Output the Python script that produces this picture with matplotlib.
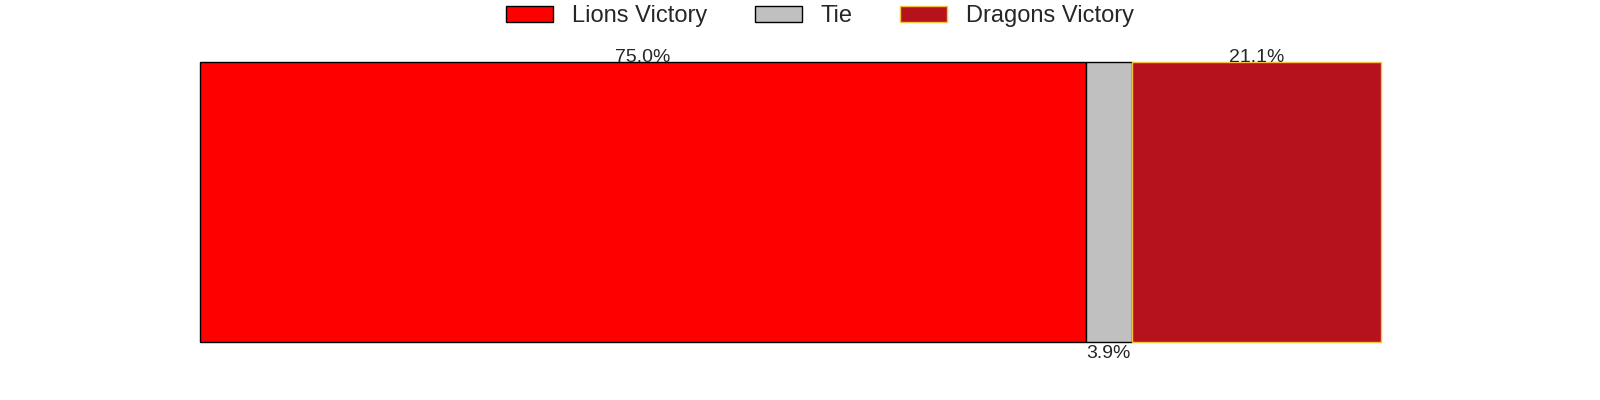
import matplotlib
matplotlib.use("Agg")
import matplotlib.pyplot as plt

plt.rcParams['font.family'] = ['Liberation Sans', 'DejaVu Sans']

outcomes = ["Lions Victory", "Tie", "Dragons Victory"]
shares = [75.0, 3.9, 21.1]
colors = ["#ff0000", "#c0c0c0", "#b5121b"]
edges = ["black", "black", "#f5c242"]
label_side = ["top", "bottom", "top"]

fig = plt.figure(figsize=(16, 4), dpi=100)
ax = fig.add_axes([200 / 1600, 58 / 400, 1181 / 1600, 280 / 400])

left = 0
for name, val, c, ec, side in zip(outcomes, shares, colors, edges, label_side):
    ax.barh(0, val, left=left, height=1, color=c, edgecolor=ec, linewidth=1,
            label=name, clip_on=False)
    cx = left + val / 2
    if side == "top":
        ax.text(cx, 0.5, f"{val:.1f}%", ha="center", va="baseline", fontsize=14, color="#262626")
    else:
        ax.text(cx, -0.51, f"{val:.1f}%", ha="center", va="top", fontsize=14, color="#262626")
    left += val

ax.set_xlim(0, 100)
ax.set_ylim(-0.5, 0.5)
ax.axis("off")

fig.legend(loc="upper center", bbox_to_anchor=(0.5125, 1.04), ncol=3, frameon=False,
           fontsize=17, labelcolor="#262626", handlelength=2.0, handleheight=0.7,
           columnspacing=2.0)

fig.savefig("out.png", dpi=100)
